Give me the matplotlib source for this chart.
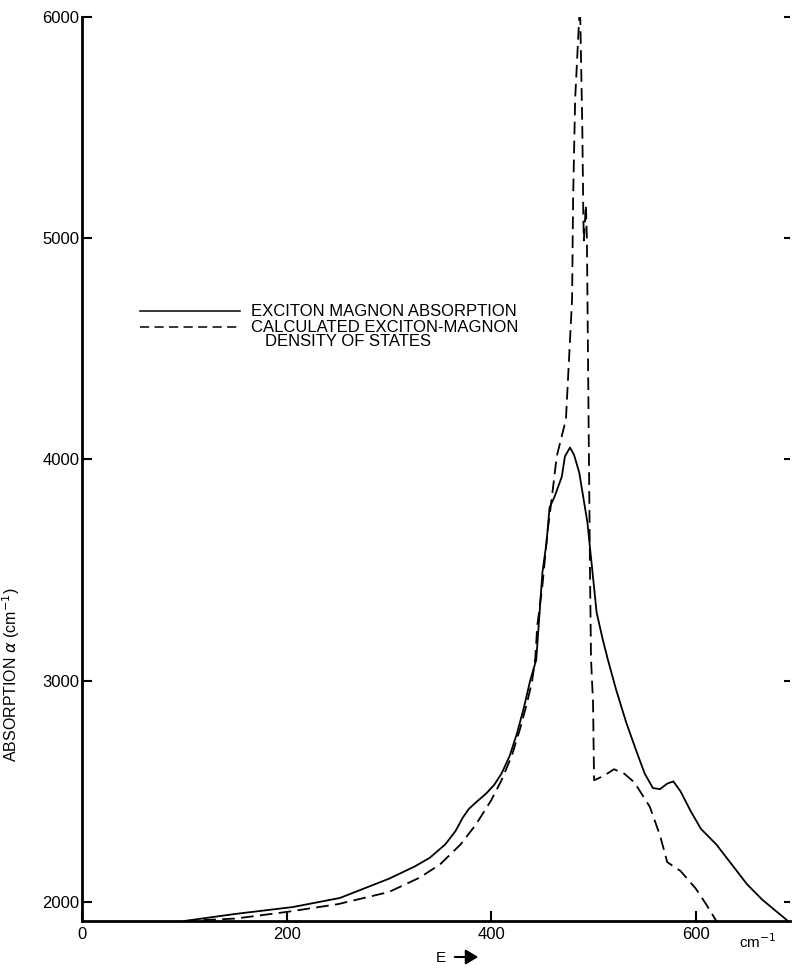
import numpy as np
import matplotlib
matplotlib.use("Agg")
import matplotlib.pyplot as plt
from matplotlib.lines import Line2D

# ── Data ──────────────────────────────────────────────────────────────────────
solid_x = [100, 150, 206, 252, 300, 325, 340, 355, 365, 372, 378, 385, 395, 403,
           410, 418, 425, 432, 438, 444, 450, 454, 457, 462, 469, 472, 477, 481,
           486, 494, 499, 503, 509, 514, 522, 532, 542, 550, 558, 565, 572, 578,
           585, 595, 605, 620, 635, 650, 665, 678, 690]
solid_y = [1914, 1946, 1977, 2018, 2105, 2160, 2200, 2260, 2320, 2380, 2420, 2450,
           2490, 2530, 2580, 2660, 2760, 2880, 3000, 3095, 3489, 3624, 3783, 3833,
           3923, 4014, 4054, 4020, 3941, 3715, 3489, 3308, 3186, 3095, 2960, 2810,
           2680, 2580, 2515, 2510, 2535, 2545, 2500, 2410, 2330, 2260, 2170, 2080,
           2010, 1960, 1914]

dash_x = [100, 150, 200, 250, 300, 330, 350, 370, 385, 400, 410, 420, 428, 435,
          440, 443, 445, 450, 455, 459, 464, 473, 476, 479, 480, 482, 486, 487,
          489, 490, 490.5, 492.5, 493.5, 494.5, 495.5, 496.5, 497.5, 499.5, 500.5,
          510, 520, 530, 540, 555, 565, 572, 585, 600, 610, 620]
dash_y = [1914, 1925, 1955, 1990, 2045, 2110, 2170, 2260, 2350, 2460, 2550, 2660,
          2780, 2900, 3000, 3100, 3249, 3430, 3674, 3819, 4014, 4181, 4452, 4724,
          5176, 5629, 6000, 6000, 5500, 5100, 4990, 5150, 4990, 4500, 4000, 3500,
          3100, 2900, 2550, 2570, 2600, 2580, 2540, 2430, 2300, 2180, 2140, 2060,
          1990, 1914]

x_ticks = [0, 200, 400, 600]
y_ticks = [2000, 3000, 4000, 5000, 6000]

legend_lines = ["EXCITON MAGNON ABSORPTION",
                "CALCULATED EXCITON-MAGNON",
                "DENSITY OF STATES"]

# ── Figure ────────────────────────────────────────────────────────────────────
plt.rcParams["font.family"] = ["Liberation Sans", "DejaVu Sans"]

W, H = 793, 968
fig = plt.figure(figsize=(W / 100, H / 100), dpi=100)
ax = fig.add_axes([82 / W, 47 / H, 708 / W, 904 / H])

ax.plot(solid_x, solid_y, color="black", lw=1.3, solid_joinstyle="round")
ax.plot(dash_x, dash_y, color="black", lw=1.3, dashes=(7, 3.5))

ax.set_xlim(0, 692)
ax.set_ylim(1914, 6000)

for side in ["top", "right"]:
    ax.spines[side].set_visible(False)
ax.spines["left"].set_linewidth(2)
ax.spines["bottom"].set_linewidth(2)

ax.set_xticks(x_ticks)
ax.set_yticks(y_ticks)
ax.tick_params(axis="both", direction="in", length=7.5, width=1.5,
               labelsize=12)
ax.tick_params(axis="x", pad=4)
ax.tick_params(axis="y", pad=2, right=True, labelright=False)
for t in ax.yaxis.get_major_ticks():
    t.tick2line.set_markersize(4)

ax.set_ylabel(r"ABSORPTION $\alpha$ (cm$^{-1}$)", fontsize=11.5)
ax.yaxis.set_label_coords(-0.085, 0.272)

fig.text(758 / W, 1 - 942 / H, "cm$^{-1}$", fontsize=11,
         ha="center", va="center")
fig.text(441 / W, 1 - 958 / H, "E", fontsize=11, ha="center", va="center")
fig.add_artist(matplotlib.patches.FancyArrowPatch(
    (452 / W, 1 - 957 / H), (481 / W, 1 - 957 / H),
    transform=fig.transFigure, arrowstyle="-|>,head_length=5,head_width=3",
    color="black", lw=1.5, mutation_scale=1.5))

# ── Hand-drawn legend ─────────────────────────────────────────────────────────
leg_y = [311, 327, 341]
for i, ls in enumerate(["-", "--"]):
    yy = 1 - leg_y[i] / H
    fig.add_artist(Line2D([140 / W, 240 / W], [yy, yy],
                          transform=fig.transFigure, color="black", lw=1.1,
                          linestyle=ls,
                          dashes=(6, 3.5) if ls == "--" else (None, None)))
for i, lab in enumerate(legend_lines):
    x0 = 265 if i == 2 else 251
    fig.text(x0 / W, 1 - leg_y[i] / H, lab, fontsize=12,
             ha="left", va="center")

fig.savefig("out.png", dpi=100)
